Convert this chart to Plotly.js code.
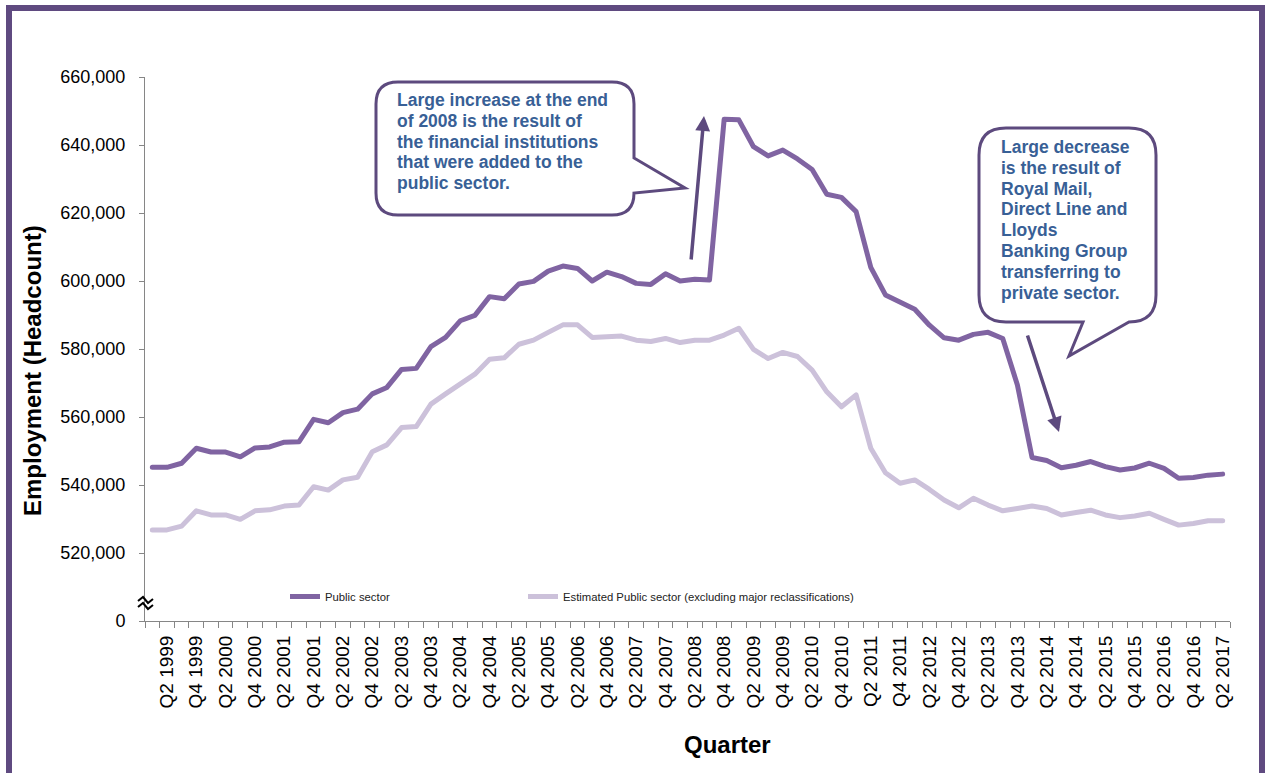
<!DOCTYPE html>
<html>
<head>
<meta charset="utf-8">
<script src="https://cdn.plot.ly/plotly-3.0.1.min.js"></script>
<style>
  html, body { margin: 0; padding: 0; background: #fff; overflow: hidden; }
  #chart { width: 1266px; height: 773px; }
  #frame {
    position: absolute; left: 6px; top: 5px; width: 1247px; height: 762px;
    border: 6px solid #5f4a80; border-bottom: none; pointer-events: none;
  }
  .scatterlayer .js-line { stroke-linejoin: round; stroke-linecap: round; }
</style>
</head>
<body>
<div id="chart"></div>
<div id="frame"></div>
<script>
// Quarterly public sector employment (headcount), Q1 1999 - Q2 2017
const quarters = [
  'Q1 1999','Q2 1999','Q3 1999','Q4 1999',
  'Q1 2000','Q2 2000','Q3 2000','Q4 2000',
  'Q1 2001','Q2 2001','Q3 2001','Q4 2001',
  'Q1 2002','Q2 2002','Q3 2002','Q4 2002',
  'Q1 2003','Q2 2003','Q3 2003','Q4 2003',
  'Q1 2004','Q2 2004','Q3 2004','Q4 2004',
  'Q1 2005','Q2 2005','Q3 2005','Q4 2005',
  'Q1 2006','Q2 2006','Q3 2006','Q4 2006',
  'Q1 2007','Q2 2007','Q3 2007','Q4 2007',
  'Q1 2008','Q2 2008','Q3 2008','Q4 2008',
  'Q1 2009','Q2 2009','Q3 2009','Q4 2009',
  'Q1 2010','Q2 2010','Q3 2010','Q4 2010',
  'Q1 2011','Q2 2011','Q3 2011','Q4 2011',
  'Q1 2012','Q2 2012','Q3 2012','Q4 2012',
  'Q1 2013','Q2 2013','Q3 2013','Q4 2013',
  'Q1 2014','Q2 2014','Q3 2014','Q4 2014',
  'Q1 2015','Q2 2015','Q3 2015','Q4 2015',
  'Q1 2016','Q2 2016','Q3 2016','Q4 2016',
  'Q1 2017','Q2 2017'
];

const publicSector = [
  545200, 545200, 546400, 550800,
  549700, 549700, 548300, 550900,
  551200, 552600, 552700, 559300,
  558300, 561300, 562300, 566800,
  568700, 574000, 574300, 580700,
  583400, 588300, 589900, 595400,
  594800, 599100, 599900, 602900,
  604400, 603700, 600000, 602600,
  601300, 599300, 599000, 602100,
  600000, 600500, 600300, 647600,
  647400, 639500, 636800, 638500,
  635900, 632800, 625500, 624600,
  620400, 604000, 595900, 593800,
  591700, 587000, 583300, 582600,
  584300, 584900, 583100, 569400,
  548100, 547200, 545100, 545800,
  546900, 545400, 544400, 545000,
  546400, 544900, 542000, 542200,
  542900, 543200
];

const publicSectorExReclass = [
  526800, 526800, 527900, 532400,
  531200, 531200, 529900, 532400,
  532700, 533800, 534100, 539500,
  538500, 541500, 542300, 549800,
  551800, 556900, 557200, 563800,
  566800, 569900, 572600, 577000,
  577400, 581400, 582600, 584900,
  587100, 587100, 583400, 583600,
  583800, 582600, 582200, 583100,
  581900, 582600, 582600, 584100,
  586100, 579900, 577200, 579000,
  577800, 573800, 567400, 563000,
  566500, 550800, 543600, 540500,
  541500, 538700, 535600, 533300,
  536100, 534100, 532400, 533100,
  533800, 533100, 531200, 531900,
  532600, 531200, 530400, 530900,
  531700, 529900, 528200, 528700,
  529500, 529500
];

const seriesNames = ['Public sector', 'Estimated Public sector (excluding major reclassifications)'];
const yTickValues = [500000, 520000, 540000, 560000, 580000, 600000, 620000, 640000, 660000];
const yTickLabels = ['0', '520,000', '540,000', '560,000', '580,000', '600,000', '620,000', '640,000', '660,000'];

const increaseNote = [
  'Large increase at the end',
  'of 2008 is the result of',
  'the financial institutions',
  'that were added to the',
  'public sector.'
];
const decreaseNote = [
  'Large decrease',
  'is the result of',
  'Royal Mail,',
  'Direct Line and',
  'Lloyds',
  'Banking Group',
  'transferring to',
  'private sector.'
];

// ---- layout geometry (pixels) ----
const W = 1266, H = 773;
const M = { l: 145, r: 36, t: 77, b: 152 };
const plotW = W - M.l - M.r, plotH = H - M.t - M.b;
const PX = x => (x - M.l) / plotW;
const PY = y => (H - M.b - y) / plotH;

const FONT = 'Arial, "Liberation Sans", sans-serif';
const NOTE_BLUE = '#386096';
const FRAME_PURPLE = '#5d4a7e';

const xIdx = quarters.map((q, i) => i);
const labelIdx = xIdx.filter(i => /^Q[24]/.test(quarters[i]));

// the lighter series is drawn first so the darker one sits on top
const traces = [
  {
    x: xIdx, y: publicSectorExReclass, name: seriesNames[1], type: 'scatter', mode: 'lines',
    line: { color: '#ccc1da', width: 5 }, legend: 'legend2'
  },
  {
    x: xIdx, y: publicSector, name: seriesNames[0], type: 'scatter', mode: 'lines',
    line: { color: '#8064a2', width: 5 }, legend: 'legend'
  }
];

// speech bubble outline with a pointer, in paper coordinates
function pt(x, y) { return PX(x).toFixed(5) + ',' + PY(y).toFixed(5); }
function bubbleRight(l, t, r, b, rad, p1, tip, p2) {
  return 'M' + pt(l + rad, t) + ' L' + pt(r - rad, t) + ' Q' + pt(r, t) + ' ' + pt(r, t + rad) +
    ' L' + pt(r, p1) + ' L' + pt(tip[0], tip[1]) + ' L' + pt(r, p2) +
    ' L' + pt(r, b - rad) + ' Q' + pt(r, b) + ' ' + pt(r - rad, b) +
    ' L' + pt(l + rad, b) + ' Q' + pt(l, b) + ' ' + pt(l, b - rad) +
    ' L' + pt(l, t + rad) + ' Q' + pt(l, t) + ' ' + pt(l + rad, t) + ' Z';
}
function bubbleBottom(l, t, r, b, rad, p1, tip, p2) {
  return 'M' + pt(l + rad, t) + ' L' + pt(r - rad, t) + ' Q' + pt(r, t) + ' ' + pt(r, t + rad) +
    ' L' + pt(r, b - rad) + ' Q' + pt(r, b) + ' ' + pt(p1, b) +
    ' L' + pt(tip[0], tip[1]) + ' L' + pt(p2, b) +
    ' L' + pt(l + rad, b) + ' Q' + pt(l, b) + ' ' + pt(l, b - rad) +
    ' L' + pt(l, t + rad) + ' Q' + pt(l, t) + ' ' + pt(l + rad, t) + ' Z';
}

const shapes = [
  {
    type: 'path', xref: 'paper', yref: 'paper', layer: 'above',
    path: bubbleRight(376, 82, 634, 215, 22, 158, [685, 188], 193),
    fillcolor: '#ffffff', line: { color: FRAME_PURPLE, width: 3 }
  },
  {
    type: 'path', xref: 'paper', yref: 'paper', layer: 'above',
    path: bubbleBottom(979, 128, 1156, 322, 27, 1129, [1069, 356], 1083),
    fillcolor: '#ffffff', line: { color: FRAME_PURPLE, width: 3 }
  },
  // axis break marks
  {
    type: 'path', xref: 'paper', yref: 'paper', layer: 'above',
    path: 'M' + pt(138, 601) + ' L' + pt(143, 597) + ' L' + pt(148, 603) + ' L' + pt(153, 599),
    line: { color: '#000000', width: 2 }
  },
  {
    type: 'path', xref: 'paper', yref: 'paper', layer: 'above',
    path: 'M' + pt(138, 607) + ' L' + pt(143, 603) + ' L' + pt(148, 609) + ' L' + pt(153, 605),
    line: { color: '#000000', width: 2 }
  }
];

const annotations = [];
function noteLines(lines, left, firstY, step) {
  lines.forEach((txt, k) => {
    annotations.push({
      xref: 'paper', yref: 'paper', x: PX(left), y: PY(firstY + k * step),
      xanchor: 'left', yanchor: 'middle', showarrow: false, text: txt,
      font: { family: FONT, size: 17.5, color: NOTE_BLUE, weight: 'bold' }
    });
  });
}
noteLines(increaseNote, 395, 100, 20.8);
noteLines(decreaseNote, 999, 147, 20.8);

// arrows pointing at the two reclassification steps
annotations.push({
  xref: 'paper', yref: 'paper', x: PX(704), y: PY(116), ax: -13, ay: 145, text: '',
  showarrow: true, arrowhead: 2, arrowsize: 0.85, arrowwidth: 3.5, arrowcolor: FRAME_PURPLE
});
annotations.push({
  xref: 'paper', yref: 'paper', x: PX(1059), y: PY(432), ax: -32, ay: -98, text: '',
  showarrow: true, arrowhead: 2, arrowsize: 0.85, arrowwidth: 3.5, arrowcolor: FRAME_PURPLE
});

// axis titles
annotations.push({
  xref: 'paper', yref: 'paper', x: PX(32), y: PY(371), xanchor: 'center', yanchor: 'middle',
  textangle: -90, showarrow: false,
  text: 'Employment (Headcount)', font: { family: FONT, size: 24, color: '#000', weight: 'bold' }
});
annotations.push({
  xref: 'paper', yref: 'paper', x: PX(727), y: PY(744), xanchor: 'center', yanchor: 'middle',
  showarrow: false,
  text: 'Quarter', font: { family: FONT, size: 24, color: '#000', weight: 'bold' }
});

const legendFont = { family: FONT, size: 11.3, color: '#222' };

const layout = {
  width: W, height: H,
  margin: M,
  paper_bgcolor: '#ffffff', plot_bgcolor: '#ffffff',
  font: { family: FONT, color: '#000' },
  showlegend: true,
  legend: {
    orientation: 'h', x: PX(285), y: PY(582), xanchor: 'left', yanchor: 'top',
    font: legendFont, bgcolor: 'rgba(0,0,0,0)'
  },
  legend2: {
    orientation: 'h', x: PX(523), y: PY(582), xanchor: 'left', yanchor: 'top',
    font: legendFont, bgcolor: 'rgba(0,0,0,0)'
  },
  xaxis: {
    range: [-0.5, quarters.length - 0.5], fixedrange: true,
    tickmode: 'array', tickvals: labelIdx, ticktext: labelIdx.map(i => quarters[i]),
    tickangle: -90, ticks: '', ticklabelstandoff: 6,
    tickfont: { family: FONT, size: 19, color: '#000' },
    minor: { tickmode: 'linear', tick0: -0.5, dtick: 1, ticks: 'outside', ticklen: 6, tickcolor: '#868686', tickwidth: 1 },
    showline: true, linecolor: '#868686', linewidth: 1, showgrid: false, zeroline: false
  },
  yaxis: {
    range: [500000, 660000], fixedrange: true,
    tickmode: 'array', tickvals: yTickValues, ticktext: yTickLabels,
    ticks: 'outside', ticklen: 5, tickcolor: '#868686', ticklabelstandoff: 10,
    tickfont: { family: FONT, size: 18, color: '#000' },
    showline: true, linecolor: '#868686', linewidth: 1, showgrid: false, zeroline: false
  },
  shapes: shapes,
  annotations: annotations
};

Plotly.newPlot('chart', traces, layout, { displayModeBar: false, staticPlot: true });
</script>
</body>
</html>
